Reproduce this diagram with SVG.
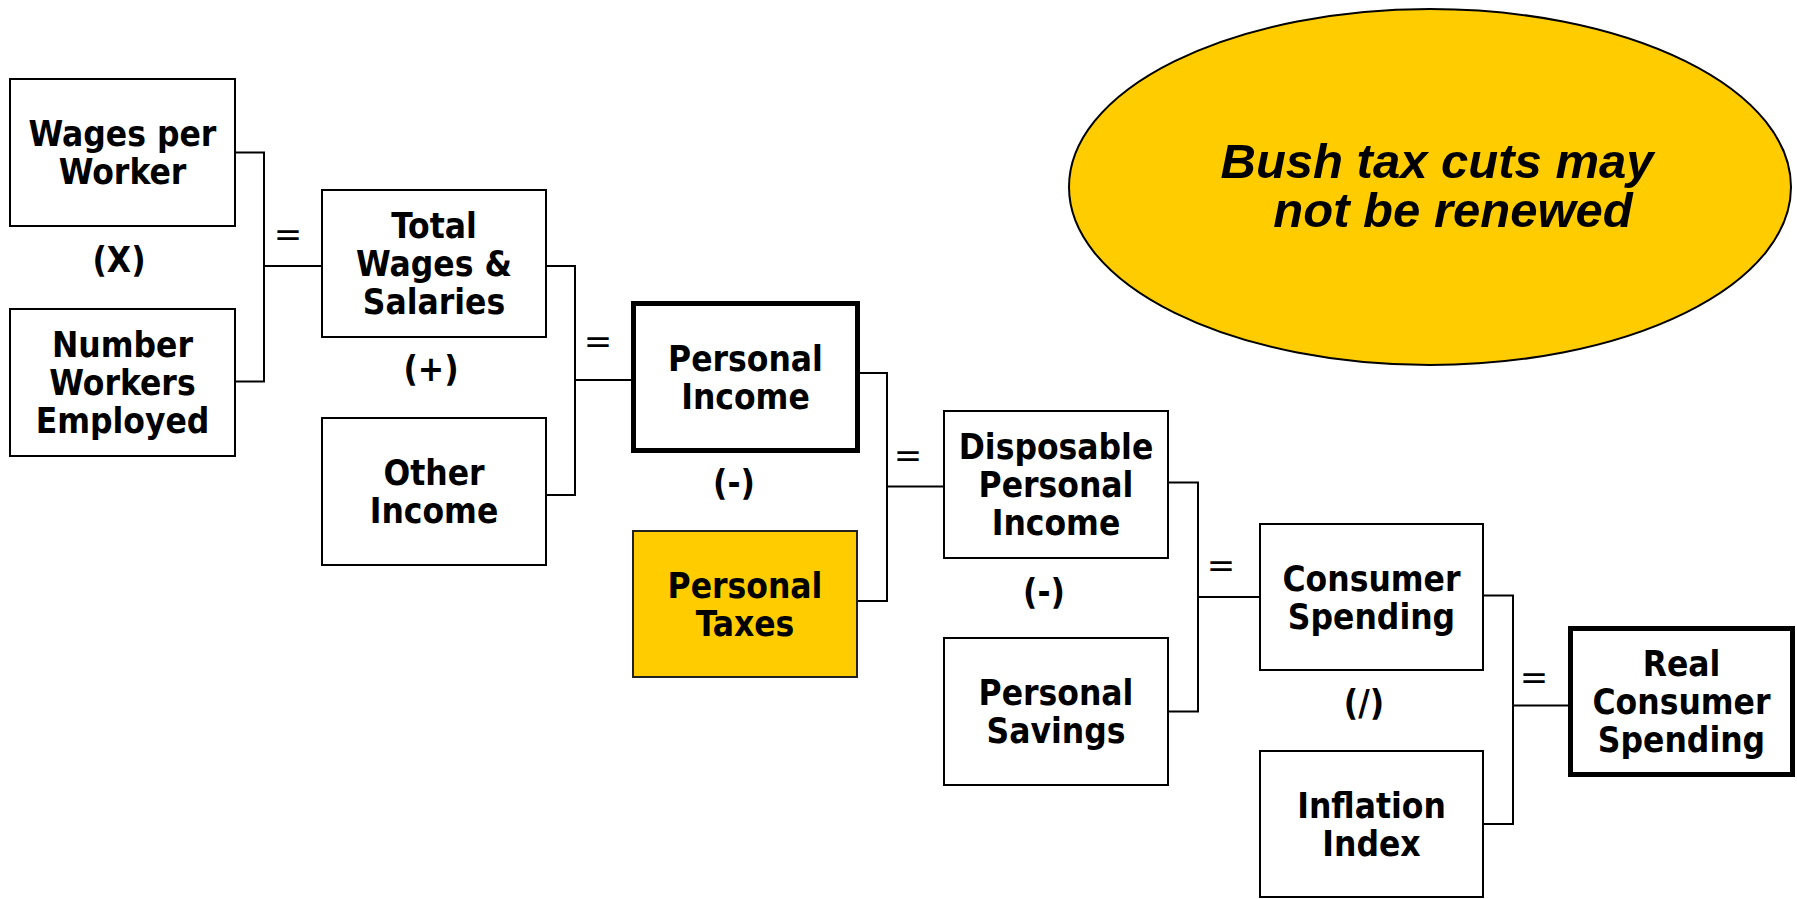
<svg xmlns="http://www.w3.org/2000/svg" width="1797" height="899" viewBox="0 0 1797 899">
  <style>
    .box { fill: #ffffff; stroke: #000000; stroke-width: 2; }
    .key { fill: #ffffff; stroke: #000000; stroke-width: 5; }
    .hot { fill: #ffcc00; stroke: #222222; stroke-width: 2; }
    .lbl { font-family: "DejaVu Sans Condensed", "DejaVu Sans", sans-serif; font-stretch: condensed; font-weight: bold; font-size: 35px; fill: #000000; text-anchor: middle; }
    .op { font-family: "DejaVu Sans Condensed", "DejaVu Sans", sans-serif; font-stretch: condensed; font-weight: bold; font-size: 35px; fill: #000000; text-anchor: middle; }
    .eq { font-family: "DejaVu Sans", sans-serif; font-size: 34px; fill: #000000; text-anchor: middle; }
    .wire { fill: none; stroke: #000000; stroke-width: 2; }
    .note { font-family: "Liberation Sans", Arial, sans-serif; font-weight: bold; font-style: italic; font-size: 49px; fill: #000000; text-anchor: middle; }
  </style>

  <!-- callout -->
  <g id="callout">
    <ellipse cx="1430" cy="187" rx="361" ry="178" fill="#ffcc00" stroke="#000000" stroke-width="2"/>
    <text class="note" x="1437" y="178">Bush tax cuts may</text>
    <text class="note" x="1453" y="227">not be renewed</text>
  </g>

  <!-- connectors -->
  <g id="connectors">
    <path class="wire" d="M235,152.5 H264 V381.5 H235 M264,266 H322"/>
    <path class="wire" d="M546,266 H575 V495 H546 M575,380 H633"/>
    <path class="wire" d="M858,373 H887 V601 H857 M887,486.5 H944"/>
    <path class="wire" d="M1168,482.5 H1198 V711.5 H1168 M1198,597 H1260"/>
    <path class="wire" d="M1483,595.5 H1513 V824 H1483 M1513,705.5 H1568"/>
  </g>

  <!-- operators -->
  <g id="operators">
    <text class="op" x="119" y="272">(X)</text>
    <text class="op" x="431" y="381">(+)</text>
    <text class="op" x="734" y="495">(-)</text>
    <text class="op" x="1044" y="604">(-)</text>
    <text class="op" x="1364" y="715">(/)</text>
    <text class="eq" x="288" y="246">=</text>
    <text class="eq" x="598" y="353">=</text>
    <text class="eq" x="908" y="467">=</text>
    <text class="eq" x="1221" y="577">=</text>
    <text class="eq" x="1534" y="689">=</text>
  </g>

  <g id="wages-per-worker">
    <rect class="box" x="10" y="79" width="225" height="147"/>
    <text class="lbl" x="122.5" y="146">Wages per</text>
    <text class="lbl" x="122.5" y="184">Worker</text>
  </g>

  <g id="number-workers-employed">
    <rect class="box" x="10" y="309" width="225" height="147"/>
    <text class="lbl" x="122.5" y="357">Number</text>
    <text class="lbl" x="122.5" y="395">Workers</text>
    <text class="lbl" x="122.5" y="433">Employed</text>
  </g>

  <g id="total-wages-salaries">
    <rect class="box" x="322" y="190" width="224" height="147"/>
    <text class="lbl" x="434" y="238">Total</text>
    <text class="lbl" x="434" y="276">Wages &amp;</text>
    <text class="lbl" x="434" y="314">Salaries</text>
  </g>

  <g id="other-income">
    <rect class="box" x="322" y="418" width="224" height="147"/>
    <text class="lbl" x="434" y="485">Other</text>
    <text class="lbl" x="434" y="523">Income</text>
  </g>

  <g id="personal-income">
    <rect class="key" x="633.5" y="303.5" width="224" height="147"/>
    <text class="lbl" x="745.5" y="371">Personal</text>
    <text class="lbl" x="745.5" y="409">Income</text>
  </g>

  <g id="personal-taxes">
    <rect class="hot" x="633" y="531" width="224" height="146"/>
    <text class="lbl" x="745" y="598">Personal</text>
    <text class="lbl" x="745" y="636">Taxes</text>
  </g>

  <g id="disposable-personal-income">
    <rect class="box" x="944" y="411" width="224" height="147"/>
    <text class="lbl" x="1056" y="459">Disposable</text>
    <text class="lbl" x="1056" y="497">Personal</text>
    <text class="lbl" x="1056" y="535">Income</text>
  </g>

  <g id="personal-savings">
    <rect class="box" x="944" y="638" width="224" height="147"/>
    <text class="lbl" x="1056" y="705">Personal</text>
    <text class="lbl" x="1056" y="743">Savings</text>
  </g>

  <g id="consumer-spending">
    <rect class="box" x="1260" y="524" width="223" height="146"/>
    <text class="lbl" x="1371.5" y="591">Consumer</text>
    <text class="lbl" x="1371.5" y="629">Spending</text>
  </g>

  <g id="inflation-index">
    <rect class="box" x="1260" y="751" width="223" height="146"/>
    <text class="lbl" x="1371.5" y="818">Inflation</text>
    <text class="lbl" x="1371.5" y="856">Index</text>
  </g>

  <g id="real-consumer-spending">
    <rect class="key" x="1570.5" y="628.5" width="222" height="146"/>
    <text class="lbl" x="1681.5" y="676">Real</text>
    <text class="lbl" x="1681.5" y="714">Consumer</text>
    <text class="lbl" x="1681.5" y="752">Spending</text>
  </g>
</svg>
